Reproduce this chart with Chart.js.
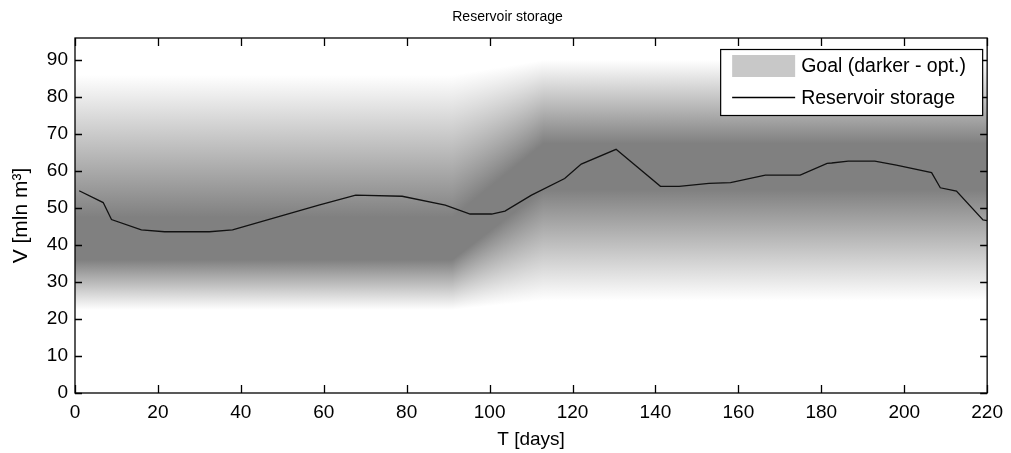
<!DOCTYPE html>
<html>
<head>
<meta charset="utf-8">
<title>Reservoir storage</title>
<script src="https://cdn.jsdelivr.net/npm/chart.js@4.4.1/dist/chart.umd.min.js"></script>
<style>
  html, body { margin: 0; padding: 0; background: #fff; }
</style>
</head>
<body>
<canvas id="myChart" width="1011" height="453"></canvas>
<script>
// reservoir storage trace: day -> volume [mln m3]
let days = [1, 6.8, 8.8, 16, 21.6, 32.4, 38, 58.8, 67.7, 78.9, 89.3, 95.3, 100.5, 103.7, 110.1,
  118.1, 122.1, 130.5, 141.2, 145.7, 152.9, 158.1, 166.5, 174.9, 181.4, 182.5, 186.5, 192.9,
  198.1, 206.6, 208.7, 212.6, 219, 220];
let storage = [54.7, 51.5, 46.9, 44.1, 43.6, 43.6, 44.1, 50.8, 53.5, 53.2, 50.8, 48.4, 48.4, 49.2, 53.5,
  58.0, 61.9, 65.9, 55.9, 55.9, 56.7, 56.9, 58.9, 58.9, 62.1, 62.2, 62.7, 62.7,
  61.6, 59.6, 55.5, 54.6, 46.8, 46.6];

// goal profile: breakpoints in time, optimal band (darkest) and where the shading fades out
let goalDays = [0, 91, 113, 220];
let goalLow = [22.5, 22.5, 25, 25];
let optLow = [36, 36, 55, 55];
let optHigh = [47.5, 47.5, 67.5, 67.5];
let goalHigh = [86, 86, 90, 90];

let seriesNames = ["Goal (darker - opt.)", "Reservoir storage"];

const FONT = "'Liberation Sans', Arial, sans-serif";

function goalAt(arr, d) {
  if (d <= goalDays[0]) return arr[0];
  for (let i = 1; i < goalDays.length; i++) {
    if (d <= goalDays[i]) {
      let t = (d - goalDays[i - 1]) / (goalDays[i] - goalDays[i - 1]);
      return arr[i - 1] + t * (arr[i] - arr[i - 1]);
    }
  }
  return arr[arr.length - 1];
}

// shaded goal band, one gradient per pixel column
const goalShade = {
  id: "goalShade",
  beforeDatasetsDraw(chart) {
    let { ctx, chartArea: a, scales: { x, y } } = chart;
    ctx.save();
    ctx.beginPath();
    ctx.rect(a.left, a.top, a.right - a.left, a.bottom - a.top);
    ctx.clip();
    for (let px = Math.floor(a.left); px < a.right; px++) {
      let d = x.getValueForPixel(px + 0.5);
      let yTop = y.getPixelForValue(goalAt(goalHigh, d));
      let y1 = y.getPixelForValue(goalAt(optHigh, d));
      let y2 = y.getPixelForValue(goalAt(optLow, d));
      let yBot = y.getPixelForValue(goalAt(goalLow, d));
      let h = yBot - yTop;
      let g = ctx.createLinearGradient(0, yTop, 0, yBot);
      g.addColorStop(0, "#ffffff");
      g.addColorStop((y1 - yTop) / h, "#808080");
      g.addColorStop((y2 - yTop) / h, "#808080");
      g.addColorStop(1, "#ffffff");
      ctx.fillStyle = g;
      ctx.fillRect(px, a.top, 1, a.bottom - a.top);
    }
    ctx.restore();
  }
};

// axes box with inward ticks on all four sides, then the legend
const boxAndLegend = {
  id: "boxAndLegend",
  afterDatasetsDraw(chart) {
    let { ctx, chartArea: a, scales: { x, y } } = chart;
    ctx.save();
    ctx.strokeStyle = "#000";
    ctx.lineWidth = 1.3;
    ctx.beginPath();
    x.ticks.forEach(t => {
      let px = Math.round(x.getPixelForValue(t.value)) + 0.5;
      ctx.moveTo(px, a.bottom); ctx.lineTo(px, a.bottom - 8);
      ctx.moveTo(px, a.top); ctx.lineTo(px, a.top + 8);
    });
    y.ticks.forEach(t => {
      let py = Math.round(y.getPixelForValue(t.value)) + 0.5;
      ctx.moveTo(a.left, py); ctx.lineTo(a.left + 7, py);
      ctx.moveTo(a.right, py); ctx.lineTo(a.right - 7, py);
    });
    ctx.stroke();
    ctx.strokeRect(a.left, a.top, a.right - a.left, a.bottom - a.top);

    // legend
    let bw = 262, bh = 66;
    let bx = a.right - 5 - bw, by = a.top + 11;
    ctx.fillStyle = "#fff";
    ctx.fillRect(bx, by, bw, bh);
    ctx.lineWidth = 1.2;
    ctx.strokeRect(bx + 0.5, by + 0.5, bw, bh);
    ctx.fillStyle = "#c8c8c8";
    ctx.fillRect(bx + 12, by + 6, 63, 22);
    ctx.strokeStyle = "#000";
    ctx.lineWidth = 1.3;
    ctx.beginPath();
    ctx.moveTo(bx + 12, by + 48.5);
    ctx.lineTo(bx + 75, by + 48.5);
    ctx.stroke();
    ctx.fillStyle = "#000";
    ctx.font = "19.5px " + FONT;
    ctx.textBaseline = "middle";
    ctx.textAlign = "left";
    ctx.fillText(seriesNames[0], bx + 81, by + 18);
    ctx.fillText(seriesNames[1], bx + 81, by + 50);
    ctx.restore();
  }
};

let ctx = document.getElementById("myChart");

let graphData = {
  type: "line",
  data: {
    datasets: [
      {
        label: seriesNames[1],
        data: days.map((d, i) => ({ x: d, y: storage[i] })),
        borderColor: "#111",
        borderWidth: 1.3,
        pointRadius: 0,
        fill: false,
        tension: 0,
      },
    ],
  },
  options: {
    responsive: false,
    animation: false,
    layout: { padding: { left: 24, right: 20, top: 0, bottom: 0 } },
    plugins: {
      legend: { display: false },
      tooltip: { enabled: false },
      title: {
        display: true,
        text: "Reservoir storage",
        color: "#000",
        font: { family: FONT, size: 14, weight: "normal" },
        padding: { top: 9, bottom: 12.2 },
      },
    },
    scales: {
      x: {
        type: "linear",
        min: 0,
        max: 220,
        grid: { display: false, drawTicks: false },
        border: { display: false },
        ticks: {
          stepSize: 20,
          padding: 8,
          color: "#000",
          maxRotation: 0,
          font: { family: FONT, size: 19 },
        },
        title: {
          display: true,
          text: "T [days]",
          color: "#000",
          font: { family: FONT, size: 19 },
          padding: { top: 0, bottom: 1.6 },
        },
        afterFit: s => { s.height = 60; },
      },
      y: {
        min: 0,
        max: 96,
        grid: { display: false, drawTicks: false },
        border: { display: false },
        ticks: {
          stepSize: 10,
          includeBounds: false,
          padding: 7,
          color: "#000",
          font: { family: FONT, size: 19 },
        },
        title: {
          display: true,
          text: "V [mln m\u00b3]",
          color: "#000",
          font: { family: FONT, size: 21 },
          padding: { top: -15.6, bottom: 0 },
        },
        afterFit: s => { s.width = 51; },
      },
    },
  },
  plugins: [goalShade, boxAndLegend],
};

let myChart = new Chart(ctx, graphData);
</script>
</body>
</html>
